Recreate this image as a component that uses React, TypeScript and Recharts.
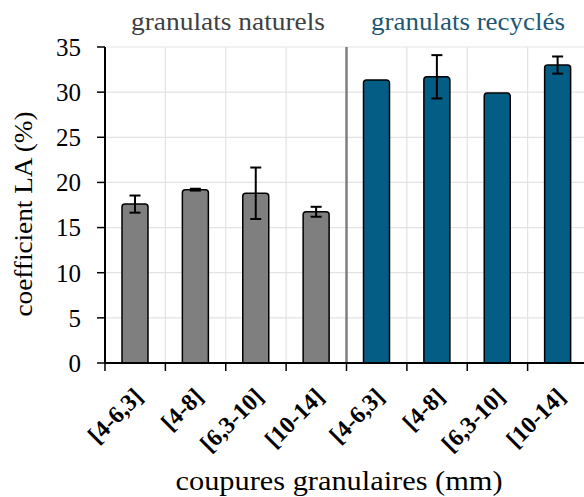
import React from 'react'
import {
  BarChart,
  Bar,
  XAxis,
  YAxis,
  CartesianGrid,
  ErrorBar,
  Cell,
  Label,
} from 'recharts'

const categories = [
  '[4-6,3]',
  '[4-8]',
  '[6,3-10]',
  '[10-14]',
  '[4-6,3]',
  '[4-8]',
  '[6,3-10]',
  '[10-14]',
]
const groups = ['nat', 'nat', 'nat', 'nat', 'rec', 'rec', 'rec', 'rec']
const groupTitles = ['granulats naturels', 'granulats recyclés']
const laValues = [17.6, 19.2, 18.8, 16.75, 31.35, 31.7, 29.9, 33.0]
const laErrors = [0.95, 0.1, 2.85, 0.55, 0, 2.4, 0, 0.95]
const yTicks = [0, 5, 10, 15, 20, 25, 30, 35]

const FONT = '"Liberation Serif", "Times New Roman", serif'
const GREY = '#7f7f7f'
const BLUE = '#045d84'

const data = categories.map((c, i) => ({
  key: `${groups[i]}-${i}`,
  label: c,
  value: laValues[i],
  err: laErrors[i],
  group: groups[i],
}))

function CategoryTick(props: any) {
  const { x, y, payload } = props
  const half = payload.offset ?? 0
  const axisY = y - 10
  const ax = x + 9
  const ay = axisY + 35
  return (
    <g>
      <line x1={x - half} x2={x - half} y1={axisY} y2={axisY + 8} stroke="#000" strokeWidth={1.5} />
      <text
        x={ax}
        y={ay}
        textAnchor="end"
        transform={`rotate(-45, ${ax}, ${ay})`}
        fontFamily={FONT}
        fontWeight="bold"
        fontSize={24}
        fill="#000"
      >
        {data[payload.index]?.label ?? payload.value}
      </text>
    </g>
  )
}

export default function App() {
  const n = categories.length
  return (
    <div
      style={{
        position: 'absolute',
        left: 0,
        top: 0,
        width: 584,
        height: 497,
        overflow: 'hidden',
        background: '#fff',
      }}
    >
      <svg
        width={584}
        height={46}
        style={{ position: 'absolute', left: 0, top: 0 }}
      >
        <text
          x={228}
          y={30}
          textAnchor="middle"
          fontFamily={FONT}
          fontSize={25}
          textLength={194}
          lengthAdjust="spacingAndGlyphs"
          fill="#404040"
        >
          {groupTitles[0]}
        </text>
        <text
          x={468}
          y={30}
          textAnchor="middle"
          fontFamily={FONT}
          fontSize={25}
          textLength={194}
          lengthAdjust="spacingAndGlyphs"
          fill="#1d5874"
        >
          {groupTitles[1]}
        </text>
      </svg>
      <BarChart
        width={600}
        height={497}
        data={data}
        margin={{ top: 47, right: 12, bottom: 0, left: 0 }}
        barCategoryGap={0}
      >
        <CartesianGrid
          stroke="#e3e3e3"
          strokeWidth={1.2}
          verticalCoordinatesGenerator={({ offset }: any) =>
            categories.map((_, i) => offset.left + (i * offset.width) / n)
          }
        />
        <CartesianGrid
          horizontal={false}
          stroke={GREY}
          strokeWidth={2.5}
          verticalCoordinatesGenerator={({ offset }: any) => [
            offset.left + (4 * offset.width) / n,
          ]}
        />
        <XAxis
          dataKey="key"
          height={134}
          axisLine={{ stroke: '#000', strokeWidth: 2 }}
          tickLine={false}
          tickSize={8}
          tickMargin={2}
          interval={0}
          tick={<CategoryTick />}
        >
          <Label
            content={() => (
              <text
                x={339}
                y={490}
                textAnchor="middle"
                fontFamily={FONT}
                fontSize={27}
                textLength={327}
                lengthAdjust="spacingAndGlyphs"
                fill="#000"
              >
                coupures granulaires (mm)
              </text>
            )}
          />
        </XAxis>
        <YAxis
          width={105}
          domain={[0, 35]}
          ticks={yTicks}
          interval={0}
          axisLine={{ stroke: '#000', strokeWidth: 2 }}
          tickLine={{ stroke: '#000', strokeWidth: 1.5 }}
          tickSize={8}
          tickMargin={16}
          tick={{ fill: '#000', fontSize: 25, fontFamily: FONT }}
        >
          <Label
            content={() => (
              <text
                x={32}
                y={214}
                textAnchor="middle"
                transform="rotate(-90, 32, 214)"
                fontFamily={FONT}
                fontSize={26}
                textLength={205}
                lengthAdjust="spacingAndGlyphs"
                fill="#000"
              >
                coefficient LA (%)
              </text>
            )}
          />
        </YAxis>
        <Bar
          dataKey="value"
          barSize={26}
          stroke="#000"
          strokeWidth={1.5}
          radius={[3, 3, 0, 0]}
          isAnimationActive={false}
        >
          {data.map((d) => (
            <Cell key={d.key} fill={d.group === 'nat' ? GREY : BLUE} />
          ))}
          <ErrorBar
            dataKey="err"
            width={5.5}
            stroke="#000"
            strokeWidth={2}
            isAnimationActive={false}
          />
        </Bar>
      </BarChart>
    </div>
  )
}
